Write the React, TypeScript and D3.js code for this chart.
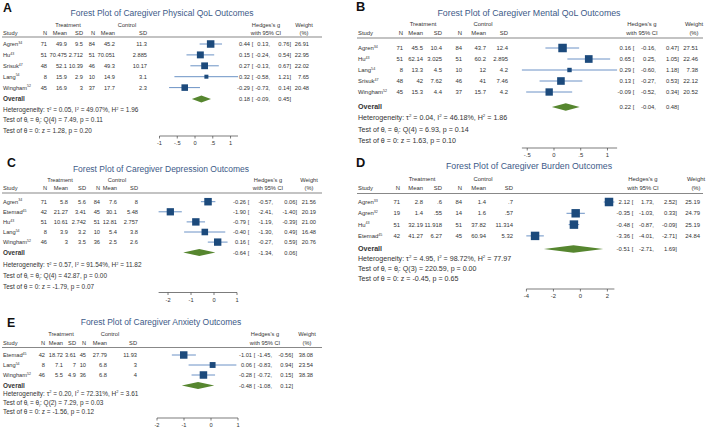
import React from 'react';
import * as d3 from 'd3';

// ---- A: physical QoL ----
const physStudies = ['Agren', 'Hu', 'Srisuk', 'Lang', 'Wingham'];
const physRefs = ['34', '43', '47', '54', '52'];
const physTable = [
  ['71', '49.9', '9.5', '84', '45.2', '11.3'],
  ['51', '70.475', '2.712', '51', '70.051', '2.885'],
  ['48', '52.1', '10.39', '46', '49.3', '10.17'],
  ['8', '15.9', '2.9', '10', '14.9', '3.1'],
  ['45', '16.9', '3', '37', '17.7', '2.3'],
];
const physG = [0.44, 0.15, 0.27, 0.32, -0.29];
const physLo = [0.13, -0.24, -0.13, -0.58, -0.73];
const physHi = [0.76, 0.54, 0.67, 1.21, 0.14];
const physW = [26.91, 22.95, 22.02, 7.65, 20.48];
const physOverall = [0.18, -0.09, 0.45];
const physHet = ['0.05', '49.07%', '1.96'];
const physQ = ['4', '7.49', '0.11'];
const physZ = ['1.28', '0.20'];
const physTicks = [-1, -0.5, 0, 0.5, 1];

// ---- B: mental QoL ----
const mentStudies = ['Agren', 'Hu', 'Lang', 'Srisuk', 'Wingham'];
const mentRefs = ['34', '43', '54', '47', '52'];
const mentTable = [
  ['71', '45.5', '10.4', '84', '43.7', '12.4'],
  ['51', '62.14', '3.025', '51', '60.2', '2.895'],
  ['8', '13.3', '4.5', '10', '12', '4.2'],
  ['48', '42', '7.62', '46', '41', '7.46'],
  ['45', '15.3', '4.4', '37', '15.7', '4.2'],
];
const mentG = [0.16, 0.65, 0.29, 0.13, -0.09];
const mentLo = [-0.16, 0.25, -0.6, -0.27, -0.52];
const mentHi = [0.47, 1.05, 1.18, 0.53, 0.34];
const mentW = [27.51, 22.46, 7.38, 22.12, 20.52];
const mentOverall = [0.22, -0.04, 0.48];
const mentHet = ['0.04', '46.18%', '1.86'];
const mentQ = ['4', '6.93', '0.14'];
const mentZ = ['1.63', '0.10'];
const mentTicks = [-0.5, 0, 0.5, 1];

// ---- C: depression ----
const depStudies = ['Agren', 'Etemad', 'Hu', 'Lang', 'Wingham'];
const depRefs = ['34', '45', '43', '54', '52'];
const depTable = [
  ['71', '5.8', '5.6', '84', '7.6', '8'],
  ['42', '21.27', '3.41', '45', '30.1', '5.48'],
  ['51', '10.61', '2.742', '51', '12.81', '2.757'],
  ['8', '3.9', '3.2', '10', '5.4', '3.8'],
  ['46', '3', '3.5', '36', '2.5', '2.6'],
];
const depG = [-0.26, -1.9, -0.79, -0.4, 0.16];
const depLo = [-0.57, -2.41, -1.19, -1.3, -0.27];
const depHi = [0.06, -1.4, -0.39, 0.49, 0.59];
const depW = [21.56, 20.19, 21.0, 16.48, 20.76];
const depOverall = [-0.64, -1.34, 0.06];
const depHet = ['0.57', '91.54%', '11.82'];
const depQ = ['4', '42.87', '0.00'];
const depZ = ['-1.79', '0.07'];
const depTicks = [-2, -1, 0, 1];

// ---- D: burden ----
const burStudies = ['Agren', 'Agren', 'Hu', 'Etemad'];
const burRefs = ['33', '32', '43', '45'];
const burTable = [
  ['71', '2.8', '.6', '84', '1.4', '.7'],
  ['19', '1.4', '.55', '14', '1.6', '.57'],
  ['51', '32.19', '11.918', '51', '37.82', '11.314'],
  ['42', '41.27', '6.27', '45', '60.94', '5.32'],
];
const burG = [2.12, -0.35, -0.48, -3.36];
const burLo = [1.73, -1.03, -0.87, -4.01];
const burHi = [2.52, 0.33, -0.09, -2.71];
const burW = [25.19, 24.79, 25.19, 24.84];
const burOverall = [-0.51, -2.71, 1.69];
const burHet = ['4.95', '98.72%', '77.97'];
const burQ = ['3', '220.59', '0.00'];
const burZ = ['-0.45', '0.65'];
const burTicks = [-4, -2, 0, 2];

// ---- E: anxiety ----
const anxStudies = ['Etemad', 'Lang', 'Wingham'];
const anxRefs = ['45', '54', '52'];
const anxTable = [
  ['42', '18.72', '3.61', '45', '27.79', '11.93'],
  ['8', '7.1', '7', '10', '6.8', '3'],
  ['46', '5.5', '4.9', '36', '6.8', '4'],
];
const anxG = [-1.01, 0.06, -0.28];
const anxLo = [-1.45, -0.83, -0.72];
const anxHi = [-0.56, 0.94, 0.15];
const anxW = [38.08, 23.54, 38.38];
const anxOverall = [-0.48, -1.08, 0.12];
const anxHet = ['0.20', '72.31%', '3.61'];
const anxQ = ['2', '7.29', '0.03'];
const anxZ = ['-1.56', '0.12'];
const anxTicks = [-2, -1, 0, 1];

const FONT = '"Liberation Sans", Arial, sans-serif';
const TXT = '#333';
const TITLE = '#3d5a88';
const SQUARE = '#1c4a7c';
const CI = '#5b87c0';
const DIAMOND = '#56862f';

// text sizes: table, title, stats lines; marker sizes
const small = { fs: 5.7, tfs: 8.5, sfs: 6.45, lfs: 12.3, sq: 7.5, dia: 3.4 };
const big = { fs: 5.9, tfs: 8.8, sfs: 7.1, lfs: 12.8, sq: 8.5, dia: 3.7 };

const panels = [
  {
    letter: 'A', title: 'Forest Plot of Caregiver Physical QoL Outcomes',
    studies: physStudies, refs: physRefs, table: physTable, g: physG, lo: physLo, hi: physHi, w: physW,
    overall: physOverall, het: physHet, q: physQ, z: physZ, ticks: physTicks,
    lay: { ...small, letterX: 3, letterY: 12, titleX: 162, titleY: 16, treatY: 27, studyY: 35, lineY: 37,
      lineX: [2, 322], studyX: 3, cols: [47, 67, 83, 95, 115, 147], treatX: 68, ctrlX: 127,
      rowY: 44, rowStep: 10.9, overallY: 99, statY: [112, 122, 133], axisY: 136,
      domain: [-1, 1.21], range: [159.5, 238], colE: 250, colL: 270, colU: 291, colW: 309, hedgesX: 266, weightX: 304 },
  },
  {
    letter: 'B', title: 'Forest Plot of Caregiver Mental QoL Outcomes',
    studies: mentStudies, refs: mentRefs, table: mentTable, g: mentG, lo: mentLo, hi: mentHi, w: mentW,
    overall: mentOverall, het: mentHet, q: mentQ, z: mentZ, ticks: mentTicks,
    lay: { ...big, letterX: 356, letterY: 11, titleX: 529, titleY: 16, treatY: 26, studyY: 35, lineY: 38,
      lineX: [357, 703], studyX: 358, cols: [403, 423, 442, 462, 486, 508], treatX: 423, ctrlX: 483,
      rowY: 48, rowStep: 11, overallY: 107, statY: [119.5, 131.5, 143], axisY: 148,
      domain: [-0.6, 1.18], range: [521.9, 617.1], colE: 631, colL: 656, colU: 679, colW: 698, hedgesX: 642, weightX: 694 },
  },
  {
    letter: 'C', title: 'Forest Plot of Caregiver Depression Outcomes',
    studies: depStudies, refs: depRefs, table: depTable, g: depG, lo: depLo, hi: depHi, w: depW,
    overall: depOverall, het: depHet, q: depQ, z: depZ, ticks: depTicks,
    lay: { ...small, letterX: 7, letterY: 167, titleX: 161, titleY: 172, treatY: 182, studyY: 190, lineY: 193,
      lineX: [2, 322], studyX: 3, cols: [47, 68, 86, 100, 117, 138], treatX: 60, ctrlX: 117,
      rowY: 201.7, rowStep: 10.1, overallY: 252.5, statY: [267, 278, 289], axisY: 292.5,
      domain: [-2.41, 1], range: [158.6, 237], colE: 246, colL: 273, colU: 297, colW: 316, hedgesX: 268, weightX: 309 },
  },
  {
    letter: 'D', title: 'Forest Plot of Caregiver Burden Outcomes',
    studies: burStudies, refs: burRefs, table: burTable, g: burG, lo: burLo, hi: burHi, w: burW,
    overall: burOverall, het: burHet, q: burQ, z: burZ, ticks: burTicks,
    lay: { ...big, letterX: 356, letterY: 167, titleX: 529, titleY: 169, treatY: 181, studyY: 190, lineY: 193.5,
      lineX: [357, 703], studyX: 358, cols: [400, 423, 442, 462, 486, 513], treatX: 422, ctrlX: 483,
      rowY: 202, rowStep: 11.3, overallY: 249, statY: [260.5, 270.5, 281], axisY: 289,
      domain: [-4.01, 2.52], range: [526.3, 614.4], colE: 630, colL: 654, colU: 677, colW: 700, hedgesX: 643, weightX: 696 },
  },
  {
    letter: 'E', title: 'Forest Plot of Caregiver Anxiety Outcomes',
    studies: anxStudies, refs: anxRefs, table: anxTable, g: anxG, lo: anxLo, hi: anxHi, w: anxW,
    overall: anxOverall, het: anxHet, q: anxQ, z: anxZ, ticks: anxTicks,
    lay: { ...small, letterX: 7, letterY: 327, titleX: 161, titleY: 324.5, treatY: 335.5, studyY: 344.5, lineY: 347.5,
      lineX: [2, 322], studyX: 3, cols: [45, 63, 76, 86, 107, 137], treatX: 61, ctrlX: 110,
      rowY: 355, rowStep: 10, overallY: 385.5, statY: [395.5, 404.5, 413.5], axisY: 418,
      domain: [-2, 1], range: [157, 238], colE: 252, colL: 272, colU: 293, colW: 313, hedgesX: 265, weightX: 307 },
  },
];

const f2 = (v: number) => v.toFixed(2);
const tickFmt = (v: number) => String(v).replace(/^(-?)0\./, '$1.');

function Forest({ p }: { p: any }) {
  const L = p.lay;
  const fs = L.fs;
  const x = d3.scaleLinear().domain(L.domain).range(L.range);
  const wMax = d3.max(p.w as number[]) as number;
  const yRow = (i: number) => L.rowY + i * L.rowStep;
  const sup = fs * 0.62;
  const ssup = L.sfs * 0.62;
  const dia = d3.line()([
    [x(p.overall[1]), L.overallY],
    [x(p.overall[0]), L.overallY - L.dia],
    [x(p.overall[2]), L.overallY],
    [x(p.overall[0]), L.overallY + L.dia],
  ]) + 'Z';
  const heads = ['N', 'Mean', 'SD', 'N', 'Mean', 'SD'];

  return (
    <g fontFamily={FONT} fill={TXT}>
      <text x={L.letterX} y={L.letterY} fontSize={L.lfs} fontWeight="bold" fill="#111">{p.letter}</text>
      <text x={L.titleX} y={L.titleY} fontSize={L.tfs} textAnchor="middle" fill={TITLE}>{p.title}</text>

      {/* header */}
      <g fontSize={fs}>
        <text x={L.treatX} y={L.treatY} textAnchor="middle">Treatment</text>
        <text x={L.ctrlX} y={L.treatY} textAnchor="middle">Control</text>
        <text x={L.studyX} y={L.studyY}>Study</text>
        {heads.map((h, i) => (
          <text key={i} x={L.cols[i]} y={L.studyY} textAnchor="end">{h}</text>
        ))}
        <text x={L.hedgesX} y={L.treatY} textAnchor="middle">Hedges's g</text>
        <text x={L.hedgesX} y={L.studyY} textAnchor="middle">with 95% CI</text>
        <text x={L.weightX} y={L.treatY} textAnchor="middle">Weight</text>
        <text x={L.weightX} y={L.studyY} textAnchor="middle">(%)</text>
      </g>
      <line x1={L.lineX[0]} x2={L.lineX[1]} y1={L.lineY} y2={L.lineY} stroke="#555" strokeWidth={0.7} />

      {/* studies */}
      {p.studies.map((s: string, i: number) => {
        const y = yRow(i);
        const side = L.sq * Math.sqrt(p.w[i] / wMax);
        return (
          <g key={i} fontSize={fs}>
            <text x={L.studyX} y={y + 2}>
              {s}
              <tspan fontSize={sup} dy={-2.3}>{p.refs[i]}</tspan>
            </text>
            {p.table[i].map((v: string, j: number) => (
              <text key={j} x={L.cols[j]} y={y + 2} textAnchor="end">{v}</text>
            ))}
            <line x1={x(p.lo[i])} x2={x(p.hi[i])} y1={y} y2={y} stroke={CI} strokeWidth={0.9} />
            <rect x={x(p.g[i]) - side / 2} y={y - side / 2} width={side} height={side} fill={SQUARE} />
            <text x={L.colE} y={y + 2} textAnchor="end">{f2(p.g[i])}</text>
            <text x={L.colE + 1.8} y={y + 2}>[</text>
            <text x={L.colL} y={y + 2} textAnchor="end">{f2(p.lo[i])},</text>
            <text x={L.colU} y={y + 2} textAnchor="end">{f2(p.hi[i])}]</text>
            <text x={L.colW} y={y + 2} textAnchor="end">{f2(p.w[i])}</text>
          </g>
        );
      })}

      {/* overall */}
      <g fontSize={fs}>
        <text x={L.studyX} y={L.overallY + 2} fontWeight="bold" fontSize={L.sfs}>Overall</text>
        <path d={dia} fill={DIAMOND} />
        <text x={L.colE} y={L.overallY + 2} textAnchor="end">{f2(p.overall[0])}</text>
        <text x={L.colE + 1.8} y={L.overallY + 2}>[</text>
        <text x={L.colL} y={L.overallY + 2} textAnchor="end">{f2(p.overall[1])},</text>
        <text x={L.colU} y={L.overallY + 2} textAnchor="end">{f2(p.overall[2])}]</text>
      </g>
      <g fontSize={L.sfs}>
        <text x={L.studyX} y={L.statY[0]}>
          Heterogeneity: τ<tspan fontSize={ssup} dy={-2.5}>2</tspan>
          <tspan dy={2.5}>{` = ${p.het[0]}, I`}</tspan>
          <tspan fontSize={ssup} dy={-2.5}>2</tspan>
          <tspan dy={2.5}>{` = ${p.het[1]}, H`}</tspan>
          <tspan fontSize={ssup} dy={-2.5}>2</tspan>
          <tspan dy={2.5}>{` = ${p.het[2]}`}</tspan>
        </text>
        <text x={L.studyX} y={L.statY[1]}>
          Test of θ<tspan fontSize={ssup} dy={1.3}>i</tspan>
          <tspan dy={-1.3}> = θ</tspan>
          <tspan fontSize={ssup} dy={1.3}>j</tspan>
          <tspan dy={-1.3}>{`: Q(${p.q[0]}) = ${p.q[1]}, p = ${p.q[2]}`}</tspan>
        </text>
        <text x={L.studyX} y={L.statY[2]}>{`Test of θ = 0: z = ${p.z[0]}, p = ${p.z[1]}`}</text>
      </g>

      {/* axis */}
      <g fontSize={fs}>
        <line x1={L.range[0]} x2={L.range[1]} y1={L.axisY} y2={L.axisY} stroke="#444" strokeWidth={0.7} />
        {p.ticks.map((t: number) => (
          <g key={t}>
            <line x1={x(t)} x2={x(t)} y1={L.axisY} y2={L.axisY + 2.5} stroke="#444" strokeWidth={0.7} />
            <text x={x(t)} y={L.axisY + 9} textAnchor="middle">{tickFmt(t)}</text>
          </g>
        ))}
      </g>
    </g>
  );
}

export default function App() {
  return (
    <svg width={709} height={436} style={{ position: 'absolute', left: 0, top: 0, background: '#fff' }}>
      <rect width={709} height={436} fill="#fff" />
      {panels.map((p) => (
        <Forest key={p.letter} p={p} />
      ))}
    </svg>
  );
}
